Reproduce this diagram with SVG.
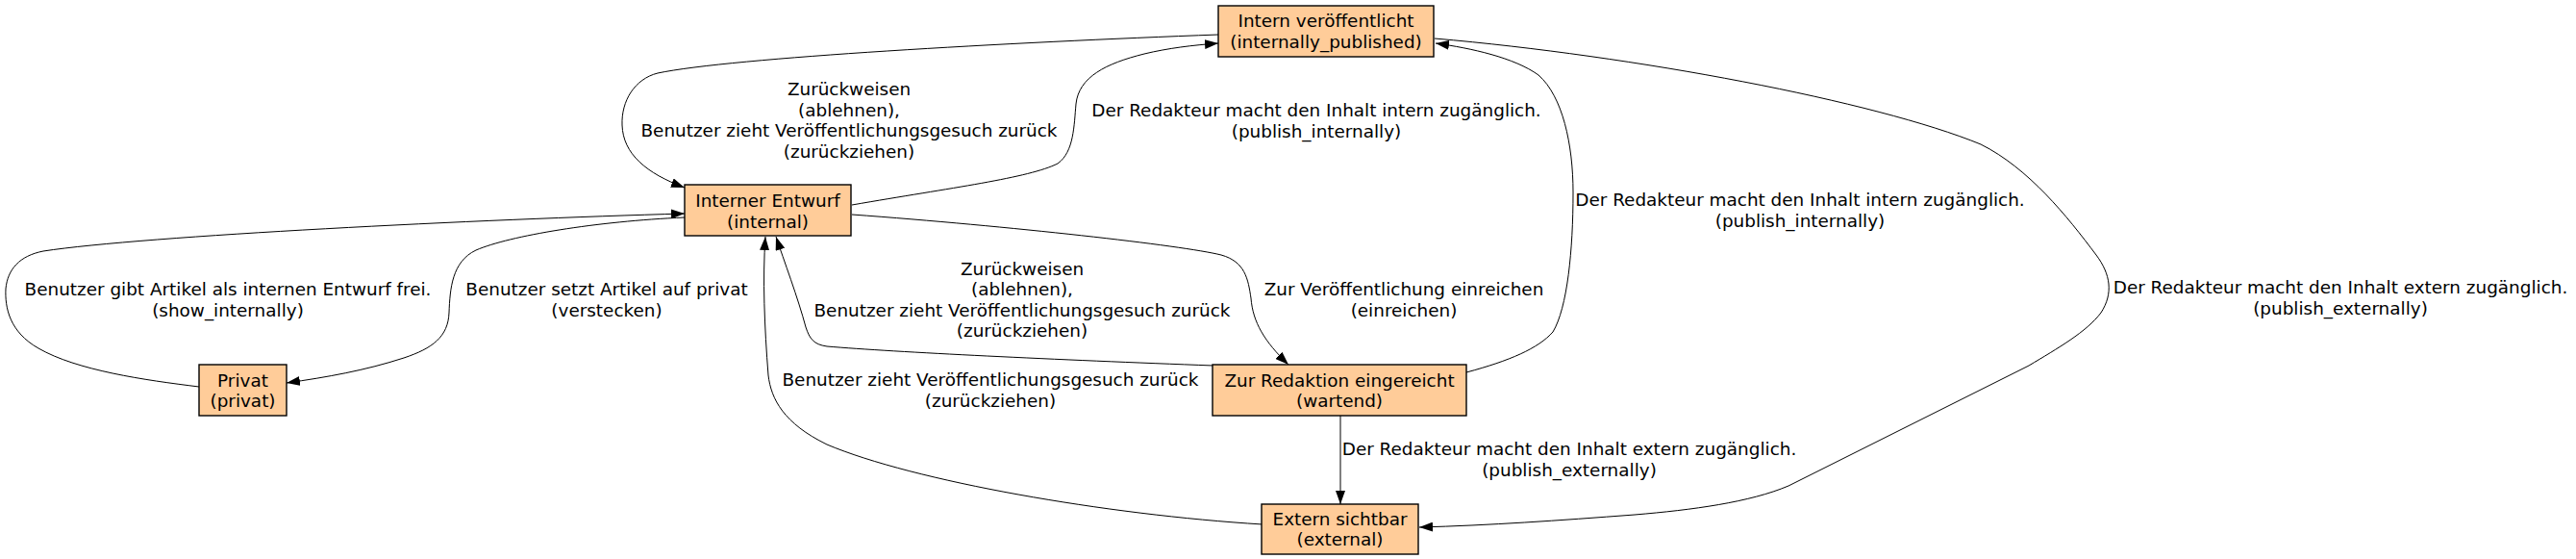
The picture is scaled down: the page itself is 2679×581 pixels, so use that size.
<svg xmlns="http://www.w3.org/2000/svg" width="2679" height="581" viewBox="0 0 2679 581">
<style>
text{font-family:"DejaVu Sans","Liberation Sans",sans-serif;font-size:18.4px;fill:#000;text-anchor:middle}
.node rect{fill:#ffcc99;stroke:#000;stroke-width:1.4}
.edge{fill:none;stroke:#000;stroke-width:1;marker-end:url(#ah)}
</style>
<defs>
<marker id="ah" viewBox="0 0 14 10" refX="14" refY="5" markerWidth="14" markerHeight="10" markerUnits="userSpaceOnUse" orient="auto">
<polygon points="0,0 14,5 0,10" fill="#000"/>
</marker>
</defs>
<rect width="2679" height="581" fill="#fff"/>
<g id="connectors">
<path class="edge" d="M1267,36 C1050,44 760,60 684,76 C660,82 646,105 647,130 C648,160 672,180 712,195"/>
<path class="edge" d="M886,213 C990,195 1070,185 1100,170 C1117,158 1117,130 1119,108 C1122,80 1150,66 1190,56 C1215,50 1240,47 1267,45"/>
<path class="edge" d="M207,402 C150,395 80,385 40,362 C10,345 5,320 6,300 C8,280 20,266 45,261 C150,245 500,228 712,222"/>
<path class="edge" d="M712,226 C620,230 530,245 495,260 C470,272 468,300 467,325 C466,350 450,362 420,372 C380,385 340,392 298,398"/>
<path class="edge" d="M886,223 C1050,235 1230,255 1270,265 C1295,272 1298,290 1301,310 C1303,335 1315,355 1340,379"/>
<path class="edge" d="M1262,380 C1100,374 930,366 860,360 C846,358 842,352 838,340 C830,310 815,270 807,246"/>
<path class="edge" d="M1313,545 C1150,535 950,500 860,462 C815,440 802,415 799,390 C795,340 793,290 796,246"/>
<path class="edge" d="M1525,387 C1570,375 1600,362 1615,345 C1630,320 1636,260 1636,200 C1636,150 1625,100 1600,78 C1575,60 1530,50 1493,45"/>
<path class="edge" d="M1492,40 C1700,58 1950,105 2060,150 C2110,175 2150,225 2180,265 C2195,285 2198,305 2185,325 C2170,345 2140,362 2110,380 L1860,505 C1820,522 1760,530 1700,535 C1620,541 1550,546 1476,548"/>
<path class="edge" d="M1394,432 L1394,524"/>
<text x="883" y="99">Zurückweisen</text>
<text x="883" y="120.5">(ablehnen),</text>
<text x="883" y="142">Benutzer zieht Veröffentlichungsgesuch zurück</text>
<text x="883" y="163.5">(zurückziehen)</text>
<text x="1369" y="121">Der Redakteur macht den Inhalt intern zugänglich.</text>
<text x="1369" y="142.5">(publish_internally)</text>
<text x="237" y="307">Benutzer gibt Artikel als internen Entwurf frei.</text>
<text x="237" y="329">(show_internally)</text>
<text x="631" y="307">Benutzer setzt Artikel auf privat</text>
<text x="631" y="329">(verstecken)</text>
<text x="1460" y="307">Zur Veröffentlichung einreichen</text>
<text x="1460" y="329">(einreichen)</text>
<text x="1063" y="286">Zurückweisen</text>
<text x="1063" y="307">(ablehnen),</text>
<text x="1063" y="329">Benutzer zieht Veröffentlichungsgesuch zurück</text>
<text x="1063" y="350">(zurückziehen)</text>
<text x="1030" y="401">Benutzer zieht Veröffentlichungsgesuch zurück</text>
<text x="1030" y="422.5">(zurückziehen)</text>
<text x="1872" y="213.5">Der Redakteur macht den Inhalt intern zugänglich.</text>
<text x="1872" y="235.5">(publish_internally)</text>
<text x="2434" y="305">Der Redakteur macht den Inhalt extern zugänglich.</text>
<text x="2434" y="326.5">(publish_externally)</text>
<text x="1632" y="473">Der Redakteur macht den Inhalt extern zugänglich.</text>
<text x="1632" y="494.5">(publish_externally)</text>
</g>
<g id="node-internally_published" class="node">
<rect x="1267" y="6" width="224" height="53"/>
<text x="1379" y="27.5">Intern veröffentlicht</text>
<text x="1379" y="49.5">(internally_published)</text>
</g>
<g id="node-internal" class="node">
<rect x="712" y="192" width="173" height="53"/>
<text x="798.5" y="215">Interner Entwurf</text>
<text x="798.5" y="236.5">(internal)</text>
</g>
<g id="node-privat" class="node">
<rect x="207" y="379" width="91" height="53"/>
<text x="252.5" y="401.5">Privat</text>
<text x="252.5" y="423">(privat)</text>
</g>
<g id="node-wartend" class="node">
<rect x="1261" y="379" width="264" height="53"/>
<text x="1393" y="401.5">Zur Redaktion eingereicht</text>
<text x="1393" y="422.5">(wartend)</text>
</g>
<g id="node-external" class="node">
<rect x="1312" y="524" width="163" height="52"/>
<text x="1393.5" y="545.5">Extern sichtbar</text>
<text x="1393.5" y="566.5">(external)</text>
</g>
</svg>
